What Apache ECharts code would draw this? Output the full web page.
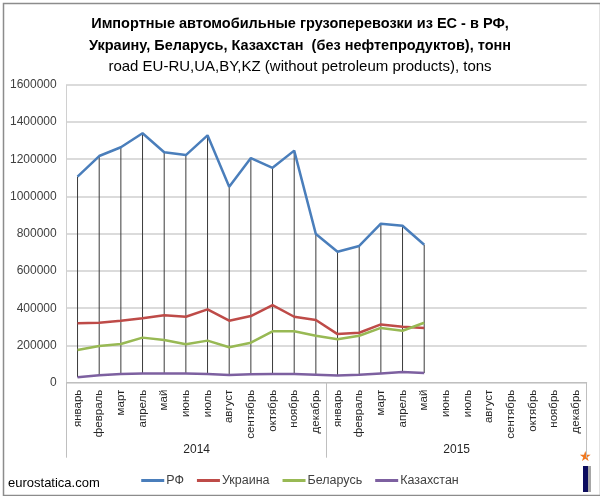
<!DOCTYPE html>
<html><head><meta charset="utf-8">
<script src="https://cdn.jsdelivr.net/npm/echarts@6/dist/echarts.min.js"></script>
<style>html,body{margin:0;padding:0;background:#fff}#c{width:600px;height:496px}</style>
</head><body><div id="c"></div>
<script>
var months = ['январь','февраль','март','апрель','май','июнь','июль','август','сентябрь','октябрь','ноябрь','декабрь',
              'январь','февраль','март','апрель','май','июнь','июль','август','сентябрь','октябрь','ноябрь','декабрь'];
var years = ['2014','2015'];
var seriesNames = ['РФ','Украина','Беларусь','Казахстан'];
var rf = [1106000,1217000,1264000,1339000,1237000,1222000,1328000,1052000,1206000,1154000,1246000,798000,
          703000,734000,854000,843000,741000,null,null,null,null,null,null,null];
var ua = [319000,322000,333000,346000,362000,354000,394000,333000,358000,416000,354000,337000,
          261000,268000,313000,301000,294000,null,null,null,null,null,null,null];
var by = [176000,197000,208000,242000,229000,206000,226000,190000,215000,276000,276000,252000,
          233000,252000,294000,279000,322000,null,null,null,null,null,null,null];
var kz = [29000,40000,47000,50000,50000,50000,47000,41000,45000,47000,47000,43000,
          38000,43000,50000,57000,52000,null,null,null,null,null,null,null];
var yTicks = [0,200000,400000,600000,800000,1000000,1200000,1400000,1600000];

var colors = ['#4a7ebb','#be4b48','#98b954','#7d60a0'];
var all = [rf, ua, by, kz];

var hiLo = [];
for (var i = 0; i < months.length; i++) {
  var vals = all.map(function(s){return s[i];}).filter(function(v){return v!=null;});
  if (vals.length) hiLo.push([i, Math.max.apply(null, vals), Math.min.apply(null, vals)]);
}

var chart = echarts.init(document.getElementById('c'), null, {renderer:'canvas'});
var font = 'Liberation Sans, Arial, sans-serif';
chart.setOption({
  animation:false,
  textStyle:{fontFamily:font},
  title:[
    {text:'Импортные автомобильные грузоперевозки из ЕС - в РФ,', left:'center', top:11,
     textStyle:{fontSize:14.5, fontWeight:'bold', color:'#000', fontFamily:font}},
    {text:'Украину, Беларусь, Казахстан  (без нефтепродуктов), тонн', left:'center', top:33,
     textStyle:{fontSize:14.5, fontWeight:'bold', color:'#000', fontFamily:font}},
    {text:'road EU-RU,UA,BY,KZ (without petroleum products), tons', left:'center', top:54,
     textStyle:{fontSize:15, fontWeight:'normal', color:'#000', fontFamily:font}}
  ],
  legend:{
    data:seriesNames, left:'center', top:469, itemWidth:23, itemHeight:3, itemGap:13,
    icon:'rect',
    textStyle:{fontSize:12.5, color:'#404040', fontFamily:font, padding:[0,0,0,-3]}
  },
  grid:{left:66.7, right:13.3, top:84.7, bottom:113.3, containLabel:false},
  xAxis:[
    {type:'category', data:months, boundaryGap:true,
     axisLine:{show:true, lineStyle:{color:'#bfbfbf', width:1}},
     axisTick:{show:false},
     axisLabel:{rotate:90, margin:7, fontSize:11.5, color:'#262626', interval:0, fontFamily:font},
     splitLine:{show:false}},
    {type:'category', data:years, position:'bottom', boundaryGap:true,
     axisLine:{show:false},
     axisTick:{show:true, length:75, lineStyle:{color:'#bfbfbf', width:1}},
     axisLabel:{margin:61, fontSize:12, color:'#262626', fontFamily:font},
     splitLine:{show:false}}
  ],
  yAxis:{
    type:'value', min:yTicks[0], max:yTicks[yTicks.length-1], interval:yTicks[1]-yTicks[0],
    axisLine:{show:true, lineStyle:{color:'#d0d0d0', width:1}},
    axisTick:{show:false},
    axisLabel:{fontSize:12, color:'#404040', margin:10, fontFamily:font,
               formatter:function(v){return String(v);}},
    splitLine:{show:true, lineStyle:{color:'#cfcfcf', width:1.5}}
  },
  series:[
    {type:'custom', name:'hl', data:hiLo, z:1, silent:true,
     renderItem:function(params, api){
       var p1 = api.coord([api.value(0), api.value(1)]);
       var p2 = api.coord([api.value(0), api.value(2)]);
       return {type:'line', shape:{x1:p1[0], y1:p1[1], x2:p2[0], y2:p2[1]},
               style:{stroke:'#3a3a3a', lineWidth:1}};
     }},
    {type:'line', name:seriesNames[0], data:rf, symbol:'none', z:3, lineStyle:{width:2.5, color:colors[0]}, itemStyle:{color:colors[0]}},
    {type:'line', name:seriesNames[1], data:ua, symbol:'none', z:3, lineStyle:{width:2.5, color:colors[1]}, itemStyle:{color:colors[1]}},
    {type:'line', name:seriesNames[2], data:by, symbol:'none', z:3, lineStyle:{width:2.5, color:colors[2]}, itemStyle:{color:colors[2]}},
    {type:'line', name:seriesNames[3], data:kz, symbol:'none', z:3, lineStyle:{width:2.5, color:colors[3]}, itemStyle:{color:colors[3]}}
  ],
  graphic:[
    {type:'rect', left:1, top:1, shape:{width:597, height:492}, style:{fill:'none', stroke:'#8c8c8c', lineWidth:1.5}, silent:true},
    {type:'text', left:8, top:477, style:{text:'eurostatica.com', font:'13px '+font, fill:'#000'}},
    {type:'text', left:579, top:450, style:{text:'★', font:'14px DejaVu Sans', fill:'#f07820'}},
    {type:'rect', left:584, top:466, shape:{width:7, height:26}, style:{fill:'#a6a6a6'}},
    {type:'rect', left:583, top:466, shape:{width:5, height:26}, style:{fill:'#0c0c5e'}}
  ]
});
</script></body></html>
